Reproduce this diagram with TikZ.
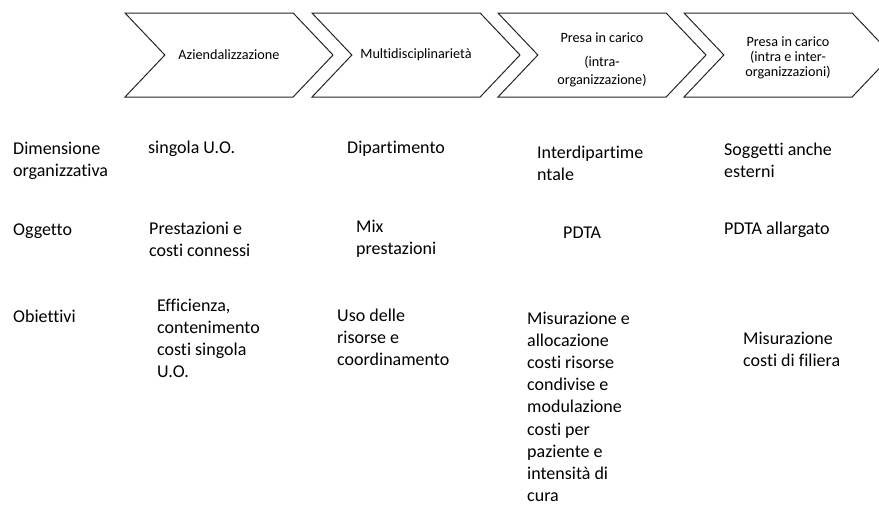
\documentclass[tikz,border=0pt]{standalone}
\usepackage{fontspec}
\setmainfont{Carlito}[Ligatures=NoCommon]
\usetikzlibrary{shapes.symbols}

\begin{document}
\begin{tikzpicture}[x=1pt, y=-1pt,
        fase/.style={signal, signal from=west, signal to=east, signal pointer angle=93,
            draw=black!85, line width=1pt, minimum width=208pt, minimum height=84pt,
            inner sep=0pt, align=center, font=\fontsize{14.2}{15}\selectfont},
        voce/.style={anchor=north west, align=left, inner sep=0pt,
            font=\fontsize{18}{22.2}\selectfont}]
        \clip (0,0) rectangle (879,509);

        % fasi
        \node[fase] at (229,55)   (fase1) {Aziendalizzazione};
        \node[fase] at (416,55)   (fase2) {Multidisciplinariet\`a};
        \node[fase, font=\fontsize{14.2}{18}\selectfont] at (602,55)   (fase3) {\rule{0pt}{20pt}Presa in carico\\[6pt](intra-\\organizzazione)};
        \node[fase] at (788,55)   (fase4) {\rule{0pt}{14.5pt}Presa in carico\\(intra e inter-\\organizzazioni)};

        % righe
        \node[voce] at (13,141.5)   (dim) {Dimensione\\organizzativa};
        \node[voce] at (13,223.5)   (ogg) {Oggetto};
        \node[voce] at (13,309.5)   (obi) {Obiettivi};

        % dimensione organizzativa
        \node[voce] at (148,140.5)  (dim1) {singola U.O.};
        \node[voce] at (347,140.5)  (dim2) {Dipartimento};
        \node[voce] at (537,145.5)  (dim3) {Interdipartime\\ntale};
        \node[voce] at (724,142.5)  (dim4) {Soggetti anche\\esterni};

        % oggetto
        \node[voce] at (149,221.5)  (ogg1) {Prestazioni e\\costi connessi};
        \node[voce] at (356,219.5)  (ogg2) {Mix\\prestazioni};
        \node[voce] at (563,226.5)  (ogg3) {PDTA};
        \node[voce] at (724,221.5)  (ogg4) {PDTA allargato};

        % obiettivi
        \node[voce] at (157,298.5)  (obi1) {Efficienza,\\contenimento\\costi singola\\U.O.};
        \node[voce] at (337,308.5)  (obi2) {Uso delle\\risorse e\\coordinamento};
        \node[voce] at (527,311.5)  (obi3) {Misurazione e\\allocazione\\costi risorse\\condivise e\\modulazione\\costi per\\paziente e\\intensit\`a di\\cura};
        \node[voce] at (743,331.5)  (obi4) {Misurazione\\costi di filiera};
    \end{tikzpicture}
\end{document}
